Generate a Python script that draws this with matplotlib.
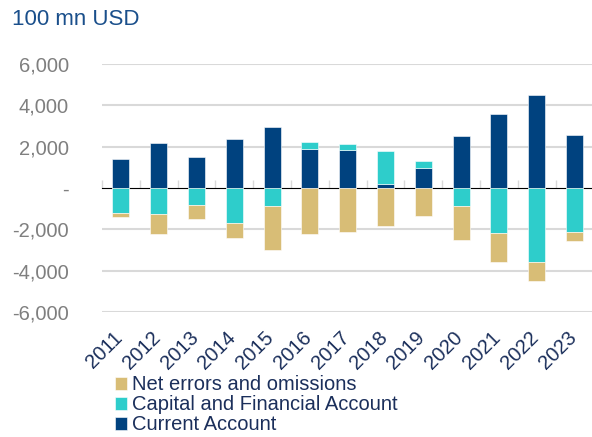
import matplotlib.pyplot as plt
import matplotlib.transforms as mtransforms
import numpy as np

plt.rcParams['font.family'] = ['Liberation Sans', 'DejaVu Sans']

years = ['2011', '2012', '2013', '2014', '2015', '2016', '2017',
         '2018', '2019', '2020', '2021', '2022', '2023']
current = [1380, 2180, 1500, 2380, 2960, 1870, 1850, 195, 975, 2520, 3560, 4470, 2550]
capital = [-1220, -1270, -830, -1690, -890, 340, 250, 1595, 345, -890, -2200, -3560, -2150]
net_err = [-180, -940, -680, -710, -2100, -2230, -2110, -1840, -1350, -1650, -1400, -940, -440]

series = [('Current Account', current, '#00427f'),
          ('Capital and Financial Account', capital, '#2ecdcb'),
          ('Net errors and omissions', net_err, '#d8bd76')]

fig = plt.figure(figsize=(5.92, 4.37), dpi=100)
ax = fig.add_axes([0.1723, 0.286, 0.83, 0.568])

x = np.arange(len(years))
pos = np.zeros(len(years))
neg = np.zeros(len(years))
handles = []
for name, vals, col in series:
    v = np.array(vals, dtype=float)
    bottom = np.where(v >= 0, pos, neg)
    h = ax.bar(x, v, 0.45, bottom=bottom, color=col, edgecolor='white',
               linewidth=0.4, label=name, zorder=3)
    handles.append(h)
    pos = np.where(v >= 0, pos + v, pos)
    neg = np.where(v < 0, neg + v, neg)

ax.set_xlim(-0.5, len(years) - 0.5)
ax.set_ylim(-6000, 6000)
yt = [-6000, -4000, -2000, 0, 2000, 4000, 6000]
ax.set_yticks(yt)
ax.set_yticklabels(['-' if t == 0 else f'{t:,}' for t in yt])
for t in yt:
    if t != 0:
        ax.axhline(t, color='#d9d9d9', lw=1.5, zorder=0)

for s in ax.spines.values():
    s.set_visible(False)
ax.tick_params(axis='y', length=0, pad=24, labelsize=14.5, labelcolor='#7f7f7f')
ax.set_xticks(x)
ax.set_xticklabels(years, rotation=45, ha='right', rotation_mode='anchor')
ax.tick_params(axis='x', length=0, pad=8, labelsize=14.5, labelcolor='#1b2f5b')
shift = mtransforms.ScaledTranslation(-8 / 100, -5 / 100, fig.dpi_scale_trans)
for lab in ax.get_xticklabels():
    lab.set_transform(lab.get_transform() + shift)

zero = ax.secondary_xaxis(0.5)
zero.set_xticks(np.arange(-0.5, len(years), 1.0))
zero.set_xticklabels([])
zero.tick_params(axis='x', length=6, width=1, color='#d9d9d9')
zero.spines['bottom'].set_color('#d9d9d9')
zero.spines['bottom'].set_linewidth(1.5)

fig.text(0.02, 0.98, '100 mn USD', fontsize=16, color='#1a4f8b', va='top', ha='left')

fig.legend(handles[::-1], [s[0] for s in series][::-1], loc='upper left',
           bbox_to_anchor=(0.1765, 0.164), frameon=False, fontsize=14.5,
           handlelength=0.6, handleheight=0.6, handletextpad=0.25,
           labelspacing=0.05, borderpad=0, labelcolor='#1b2f5b')

fig.savefig('out.png', dpi=100)
